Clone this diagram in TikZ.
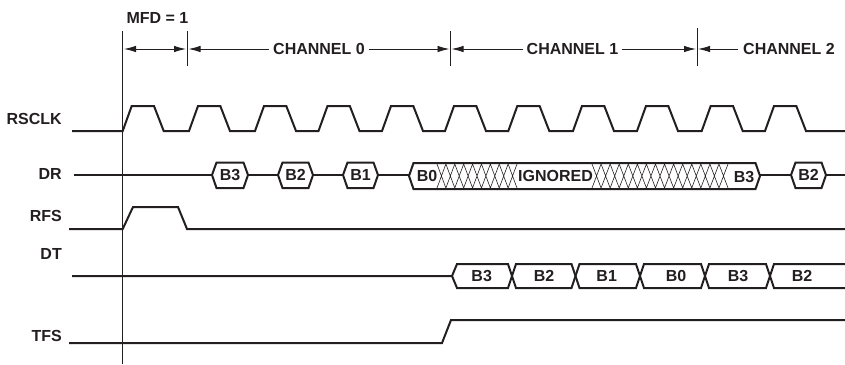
\documentclass[tikz,border=0pt]{standalone}
\usepackage{fontspec}
\setmainfont{Liberation Sans}
\usetikzlibrary{arrows.meta}
\definecolor{ink}{RGB}{35,31,32}
\begin{document}
\begin{tikzpicture}[x=1pt,y=-1pt,
  sig/.style={draw=ink,line width=2pt,line join=miter},
  vline/.style={draw=ink,line width=0.9pt},
  hatch/.style={draw=ink,line width=0.6pt},
  lbl/.style={font=\fontsize{16}{18}\selectfont\bfseries,text=ink,inner sep=0pt},
  chlbl/.style={lbl,inner xsep=4pt},
  tipa/.tip={Latex[length=12pt,width=6.5pt]},
  dim/.style={draw=ink,line width=0.9pt,-tipa},
  dimboth/.style={draw=ink,line width=0.9pt,tipa-tipa}]
\useasboundingbox (0,0) rectangle (845,364);

% signal names
\node[lbl,anchor=east] (rsclk) at (62,119) {RSCLK};
\node[lbl,anchor=east] (dr) at (62,174) {DR};
\node[lbl,anchor=east] (rfs) at (62,216) {RFS};
\node[lbl,anchor=east] (dt) at (62,254) {DT};
\node[lbl,anchor=east] (tfs) at (62,336) {TFS};

% vertical markers
\coordinate (m0t) at (122.7,31);  \coordinate (m0b) at (122.7,364);
\coordinate (m1t) at (187,31);    \coordinate (m1b) at (187,66);
\coordinate (m2t) at (450.5,31);  \coordinate (m2b) at (450.5,66);
\coordinate (m3t) at (697,28);    \coordinate (m3b) at (697,66);
\draw[vline] (m0t) -- (m0b);
\draw[vline] (m1t) -- (m1b);
\draw[vline] (m2t) -- (m2b);
\draw[vline] (m3t) -- (m3b);

% top annotations
\node[lbl] (mfd) at (157.5,18) {MFD = 1};
\coordinate (a0l) at (124,49); \coordinate (a0r) at (186,49);
\draw[dimboth] (a0l) -- (a0r);

\node[chlbl] (ch0) at (319,49) {CHANNEL 0};
\coordinate (a1l) at (188.5,49); \coordinate (a1r) at (449.5,49);
\draw[dim] (ch0.west) -- (a1l);
\draw[dim] (ch0.east) -- (a1r);

\node[chlbl] (ch1) at (572.5,49) {CHANNEL 1};
\coordinate (a2l) at (451.5,49); \coordinate (a2r) at (696,49);
\draw[dim] (ch1.west) -- (a2l);
\draw[dim] (ch1.east) -- (a2r);

\node[chlbl,inner xsep=5pt] (ch2) at (789,49) {CHANNEL 2};
\coordinate (a3l) at (698,49);
\draw[dim] (ch2.west) -- (a3l);

% RSCLK
\draw[sig] (72,131) foreach \r in {122.7,189,255,318.5,382,445,508.3,573,637,701.7,765} {
  -- (\r,131) -- (\r+9,106) -- (\r+31.3,106) -- (\r+41,131) } -- (845,131);

% DR
\draw[sig] (74,175) -- (212,175) (248,175) -- (278,175) (313,175) -- (343,175)
  (378,175) -- (409,175) (760,175) -- (791,175) (826,175) -- (845,175);
\foreach \a/\b in {212/248,278/313,343/378,791/826} {
  \draw[sig] (\a,175) -- (\a+4.5,162.5) -- (\b-4.5,162.5) -- (\b,175) -- (\b-4.5,188) -- (\a+4.5,188) -- cycle;
}
\draw[sig] (409,176) -- (413.5,163) -- (755.5,163) -- (760,176) -- (755.5,189) -- (413.5,189) -- cycle;
\draw[hatch] foreach \i in {0,...,8} {
  (437+\i*8.889,164) -- (437+\i*8.889+8.889,188) (437+\i*8.889,188) -- (437+\i*8.889+8.889,164) };
\draw[hatch] foreach \i in {0,...,14} {
  (592+\i*9.067,164) -- (592+\i*9.067+9.067,188) (592+\i*9.067,188) -- (592+\i*9.067+9.067,164) };
\node[lbl] (drb3) at (230,175) {B3};
\node[lbl] (drb2) at (295.5,175) {B2};
\node[lbl] (drb1) at (360.5,175) {B1};
\node[lbl] (drb0) at (427,176) {B0};
\node[lbl,fill=white,inner xsep=1pt] (ign) at (555.5,176) {IGNORED};
\node[lbl] (drb3b) at (744,177) {B3};
\node[lbl] (drb2b) at (808.5,175) {B2};

% RFS
\draw[sig] (69,229) -- (122.7,229) -- (133,207) -- (178,207) -- (187,229) -- (845,229);

% DT
\draw[sig] (72,276) -- (452,276) -- (457,264) -- (508,264) -- (516,288) -- (571.5,288) -- (579.5,264)
  -- (636,264) -- (644,288) -- (701,288) -- (709,264) -- (766,264) -- (774,288) -- (845,288);
\draw[sig] (452,276) -- (457,288) -- (508,288) -- (516,264) -- (571.5,264) -- (579.5,288)
  -- (636,288) -- (644,264) -- (701,264) -- (709,288) -- (766,288) -- (774,264) -- (845,264);
\node[lbl] (dtb3) at (481.7,276) {B3};
\node[lbl] (dtb2) at (544,276) {B2};
\node[lbl] (dtb1) at (606.7,276) {B1};
\node[lbl] (dtb0) at (676,276) {B0};
\node[lbl] (dtb3b) at (738,276) {B3};
\node[lbl] (dtb2b) at (802,276) {B2};

% TFS
\draw[sig] (69,343) -- (442,343) -- (451,320) -- (845,320);
\end{tikzpicture}
\end{document}
